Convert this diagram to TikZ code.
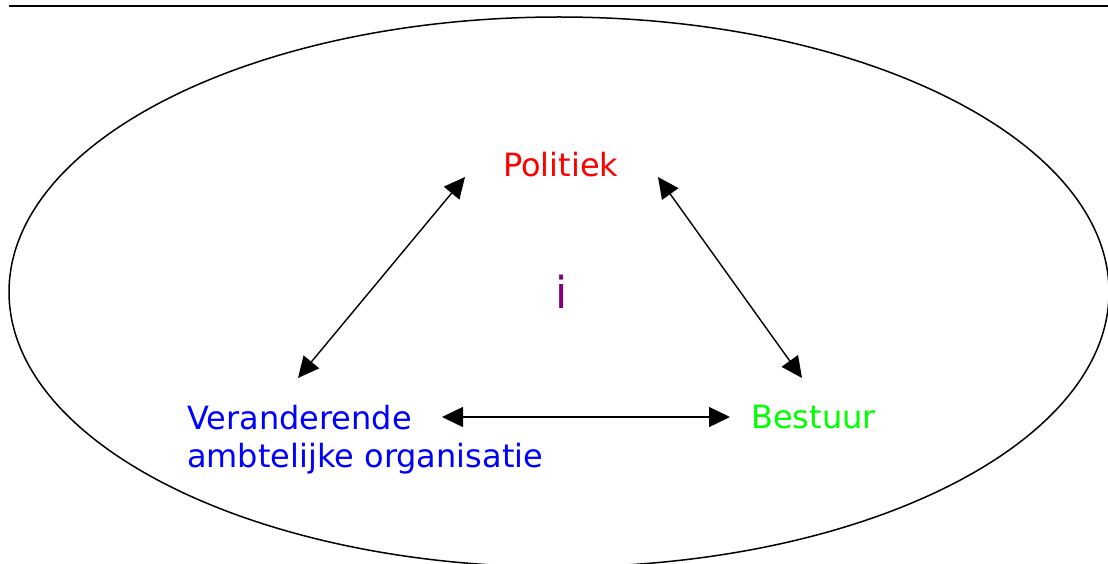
\documentclass[tikz,border=0pt]{standalone}
\usepackage{fontspec}
\setmainfont{DejaVu Sans}
\usetikzlibrary{arrows.meta}
\definecolor{pur}{RGB}{128,0,128}
\definecolor{grn}{RGB}{0,255,0}
\begin{document}
\begin{tikzpicture}[x=1pt,y=-1pt,
  lbl/.style={inner sep=0pt,anchor=base west,font=\fontsize{32}{38}\selectfont,align=left},
  dbl/.style={line width=1.4pt,{Triangle[length=21pt,width=20pt]}-{Triangle[length=21pt,width=20pt]}}]
\useasboundingbox (0,0) rectangle (1108,564);
\clip (0,0) rectangle (1108,564);
\draw[line width=1.6pt] (9,6) -- (1108,6);
\draw[line width=1.5pt] (559,292) ellipse [x radius=550, y radius=275];
\node[lbl,text=red] (pol) at (503,177) {Politiek};
\node[lbl,text=blue] (ver) at (187,467) {Veranderende\\ambtelijke organisatie};
\node[lbl,text=grn] (bes) at (751,428) {Bestuur};
\node[inner sep=0pt,anchor=base,text=pur,font=\fontsize{44}{50}\selectfont] (mid) at (562,308) {i};
\coordinate (pl) at (465,177);
\coordinate (pr) at (658,177);
\coordinate (vt) at (298,378);
\coordinate (vr) at (442,417);
\coordinate (bt) at (802,378);
\coordinate (bl) at (730,417);
\draw[dbl] (vt) -- (pl);
\draw[dbl] (pr) -- (bt);
\draw[dbl] (vr) -- (bl);
\end{tikzpicture}
\end{document}
